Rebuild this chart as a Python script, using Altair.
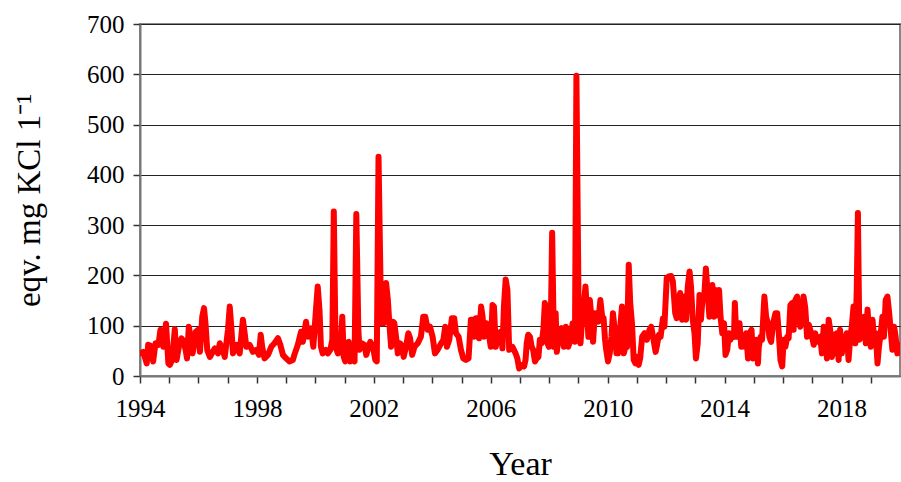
import altair as alt
import pandas as pd

# decimal years and concentration values
years = [
    1994.00, 1994.11, 1994.23, 1994.28, 1994.36, 1994.45, 1994.53, 1994.63, 1994.70, 1994.80,
    1994.89, 1994.97, 1995.02, 1995.10, 1995.19, 1995.25, 1995.33, 1995.42, 1995.49, 1995.56,
    1995.61, 1995.67, 1995.73, 1995.80, 1995.91, 1995.99, 1996.05, 1996.13, 1996.19, 1996.24,
    1996.30, 1996.39, 1996.56, 1996.67, 1996.73, 1996.82, 1996.90, 1997.01, 1997.07, 1997.13,
    1997.18, 1997.30, 1997.41, 1997.52, 1997.58, 1997.64, 1997.75, 1997.86, 1997.98, 1998.07,
    1998.13, 1998.18, 1998.26, 1998.38, 1998.49, 1998.60, 1998.72, 1998.80, 1998.89, 1999.00,
    1999.11, 1999.23, 1999.28, 1999.40, 1999.51, 1999.57, 1999.68, 1999.74, 1999.85, 1999.93,
    2000.02, 2000.08, 2000.14, 2000.19, 2000.25, 2000.36,
    2000.43, 2000.51, 2000.58, 2000.63, 2000.69, 2000.77, 2000.85, 2000.92, 2000.97, 2001.02,
    2001.08, 2001.14, 2001.19, 2001.28, 2001.34, 2001.40, 2001.47, 2001.51, 2001.59, 2001.68,
    2001.74, 2001.82, 2001.88, 2001.97, 2002.05, 2002.10, 2002.16, 2002.25, 2002.33, 2002.42,
    2002.48, 2002.53, 2002.59, 2002.65, 2002.70, 2002.76, 2002.82, 2002.90, 2002.97, 2003.02,
    2003.10, 2003.18, 2003.24, 2003.31, 2003.39, 2003.50, 2003.61, 2003.69, 2003.76, 2003.84,
    2003.92, 2004.01, 2004.09, 2004.18, 2004.30, 2004.38, 2004.44, 2004.50, 2004.58, 2004.67,
    2004.75, 2004.81, 2004.90, 2004.98, 2005.06, 2005.15, 2005.24, 2005.32, 2005.38, 2005.43,
    2005.49, 2005.55, 2005.60, 2005.67, 2005.72, 2005.77, 2005.85, 2005.91, 2006.00, 2006.06,
    2006.11, 2006.17, 2006.26, 2006.34, 2006.40, 2006.45, 2006.51, 2006.57, 2006.63, 2006.74,
    2006.85, 2006.91, 2006.97,
    2007.09, 2007.14, 2007.19, 2007.23, 2007.28, 2007.34, 2007.40, 2007.45, 2007.51, 2007.57,
    2007.63, 2007.68, 2007.74, 2007.80, 2007.85, 2007.91, 2007.94, 2007.99, 2008.05, 2008.10,
    2008.16, 2008.22, 2008.26, 2008.33, 2008.42, 2008.50, 2008.57, 2008.65, 2008.73, 2008.80,
    2008.88, 2008.93, 2009.01, 2009.07, 2009.13, 2009.18, 2009.24, 2009.30, 2009.34, 2009.39,
    2009.44, 2009.50, 2009.56, 2009.61, 2009.68, 2009.75, 2009.81, 2009.86, 2009.91, 2009.95,
    2010.01, 2010.07, 2010.13, 2010.18, 2010.24, 2010.30, 2010.35, 2010.43, 2010.49, 2010.55,
    2010.61, 2010.66, 2010.72, 2010.77, 2010.83, 2010.89, 2010.95, 2011.00, 2011.06, 2011.11,
    2011.18, 2011.26, 2011.34, 2011.43, 2011.49, 2011.55, 2011.64, 2011.69, 2011.75, 2011.81,
    2011.89, 2011.94, 2012.02, 2012.09, 2012.17, 2012.23, 2012.31, 2012.36, 2012.42, 2012.48,
    2012.55, 2012.63, 2012.68, 2012.74, 2012.80, 2012.85, 2012.91, 2012.97, 2013.02, 2013.08,
    2013.14, 2013.19, 2013.25, 2013.31, 2013.36, 2013.42, 2013.48, 2013.53,
    2013.58, 2013.64, 2013.69, 2013.75, 2013.81, 2013.86, 2013.92, 2013.98, 2014.03, 2014.09,
    2014.15, 2014.20, 2014.26, 2014.32, 2014.35, 2014.40, 2014.45, 2014.51, 2014.57, 2014.64,
    2014.69, 2014.74, 2014.80, 2014.85, 2014.92, 2014.97, 2015.02, 2015.08, 2015.14, 2015.17,
    2015.23, 2015.28, 2015.36, 2015.42, 2015.48, 2015.53, 2015.59, 2015.66, 2015.74, 2015.80,
    2015.85, 2015.91, 2015.97, 2016.02, 2016.08, 2016.14, 2016.19, 2016.25, 2016.31, 2016.36,
    2016.42, 2016.48, 2016.53, 2016.59, 2016.65, 2016.70, 2016.76, 2016.82, 2016.88, 2016.93,
    2016.99, 2017.05, 2017.10, 2017.18, 2017.27, 2017.33, 2017.39, 2017.44, 2017.50, 2017.56,
    2017.61, 2017.67, 2017.73, 2017.78, 2017.84, 2017.90, 2017.95, 2018.01, 2018.07, 2018.13,
    2018.18, 2018.24, 2018.30, 2018.35, 2018.41, 2018.47, 2018.52, 2018.56, 2018.61, 2018.67,
    2018.72, 2018.77, 2018.83, 2018.89, 2018.94, 2019.00, 2019.06, 2019.11, 2019.17, 2019.23,
    2019.28, 2019.34, 2019.40, 2019.45, 2019.51, 2019.57, 2019.63, 2019.68, 2019.74, 2019.80,
    2019.85, 2019.91, 2019.96,
]

values = [
    45, 48, 25, 62, 60, 29, 65, 62, 92, 58,
    104, 25, 22, 32, 93, 32, 58, 75, 68, 52,
    35, 98, 78, 45, 88, 92, 48, 118, 135, 105,
    52, 38, 55, 45, 65, 55, 38, 92, 138, 92,
    45, 62, 45, 112, 85, 58, 62, 48, 52, 42,
    82, 58, 35, 42, 58, 65, 75, 62, 42, 35,
    29, 32, 42, 62, 88, 68, 108, 78, 95, 58,
    132, 178, 132, 58, 45, 52,
    45, 52, 72, 327, 58, 45, 48, 118, 38, 29,
    65, 68, 29, 32, 29, 322, 92, 52, 65, 62,
    42, 58, 68, 58, 32, 29, 436, 105, 105, 185,
    151, 105, 58, 108, 105, 78, 45, 65, 58, 38,
    58, 85, 75, 42, 58, 65, 78, 118, 118, 92,
    98, 78, 45, 52, 65, 72, 98, 58, 72, 115,
    115, 85, 78, 52, 35, 32, 35, 112, 112, 78,
    115, 115, 75, 138, 118, 78, 105, 92, 58, 141,
    138, 58, 85, 88, 55, 138, 192, 171, 52, 58,
    45, 35, 15,
    22, 19, 32, 65, 82, 78, 58, 52, 29, 35,
    38, 72, 65, 92, 145, 132, 65, 58, 92, 285,
    58, 125, 48, 85, 95, 58, 98, 58, 72, 105,
    68, 597, 98, 65, 118, 138, 178, 118, 78, 151,
    118, 68, 125, 121, 108, 151, 118, 115, 72, 52,
    29, 45, 78, 125, 92, 45, 45, 98, 138, 45,
    58, 58, 221, 145, 105, 32, 25, 38, 22, 35,
    78, 85, 72, 92, 98, 78, 48, 62, 82, 78,
    115, 98, 195, 198, 199, 188, 125, 115, 151, 165,
    112, 158, 112, 178, 208, 178, 112, 85, 35, 65,
    161, 112, 158, 165, 214, 165, 118, 171,
    181, 118, 171, 121, 171, 118, 85, 105, 42, 52,
    85, 72, 85, 78, 145, 78, 82, 105, 58, 78,
    58, 85, 35, 85, 92, 35, 65, 72, 25, 58,
    78, 72, 158, 118, 105, 78, 68, 105, 125, 125,
    88, 32, 19, 72, 58, 78, 75, 141, 145, 92,
    151, 158, 118, 98, 125, 158, 135, 78, 102, 92,
    78, 62, 85, 68, 78, 45, 98, 85, 35, 112,
    92, 38, 82, 45, 85, 32, 92, 45, 78, 72,
    85, 32, 78, 98, 138, 65, 171, 324, 72, 78,
    98, 118, 65, 132, 85, 58, 112, 78, 85, 25,
    58, 85, 118, 78, 151, 158, 125, 92, 52, 98,
    78, 45, 62,
]

# axis tick values
year_ticks = list(range(1994, 2020))
y_ticks = [0, 100, 200, 300, 400, 500, 600, 700]

df = pd.DataFrame({"Year": years, "Value": values})

FONT = "Liberation Serif"

chart = (
    alt.Chart(df)
    .mark_line(color="#ff0000", strokeWidth=6, strokeJoin="round", strokeCap="round", clip=True)
    .encode(
        x=alt.X(
            "Year:Q",
            scale=alt.Scale(domain=[1994, 2020], nice=False, zero=False),
            axis=alt.Axis(
                values=year_ticks,
                format="d",
                labelExpr="(datum.value - 1994) % 4 === 0 ? datum.label : ''",
                title="Year",
                titleFont=FONT,
                titleFontSize=34,
                titleFontWeight="normal",
                titleColor="black",
                titleBaseline="alphabetic",
                titleX=380,
                titleY=98,
                titleAnchor="middle",
                labelFont=FONT,
                labelFontSize=25,
                labelColor="black",
                labelBaseline="alphabetic",
                labelPadding=33,
                labelFlush=False,
                labelOverlap=False,
                tickSize=7,
                tickColor="#333333",
                tickWidth=1.5,
                domainColor="#777777",
                domainWidth=2,
                grid=False,
            ),
        ),
        y=alt.Y(
            "Value:Q",
            scale=alt.Scale(domain=[0, 700], nice=False),
            axis=alt.Axis(
                values=y_ticks,
                title="eqv. mg KCl 1⁻¹",
                titleFont=FONT,
                titleFontSize=33,
                titleFontWeight="normal",
                titleColor="black",
                titleAngle=270,
                titleBaseline="alphabetic",
                titleAlign="center",
                titleX=-101,
                titleY=176,
                labelFont=FONT,
                labelFontSize=25,
                labelColor="black",
                labelPadding=9,
                labelFlush=False,
                tickSize=7,
                tickColor="#333333",
                tickWidth=1.5,
                domainColor="#777777",
                domainWidth=2,
                grid=True,
                gridColor="#222222",
                gridWidth=1.2,
            ),
        ),
    )
    .properties(
        width=760,
        height=352,
        autosize=alt.AutoSizeParams(type="none"),
        padding={"left": 140, "top": 24, "right": 1, "bottom": 106},
        background="white",
    )
    .configure_view(stroke="#888888", strokeWidth=2)
)

chart.save("out.html", embed_options={"renderer": "svg", "actions": False})
